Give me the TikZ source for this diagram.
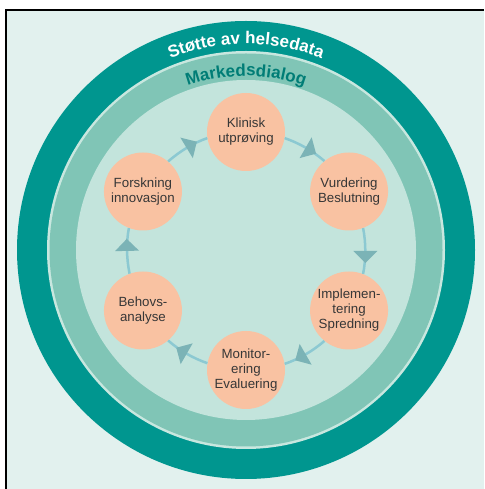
\documentclass[tikz,border=0pt]{standalone}
\usepackage{fontspec}
\setmainfont{Liberation Sans}
\usetikzlibrary{calc,decorations.text,decorations.markings}
\definecolor{bgc}{RGB}{226,241,238}
\definecolor{darkc}{RGB}{0,150,143}
\definecolor{linec}{RGB}{200,231,223}
\definecolor{medc}{RGB}{128,197,182}
\definecolor{innerc}{RGB}{195,228,220}
\definecolor{nodec}{RGB}{249,194,162}
\definecolor{arcc}{RGB}{140,201,210}
\definecolor{arrc}{RGB}{123,179,182}
\definecolor{txtc}{RGB}{55,55,55}
\definecolor{mtxt}{RGB}{0,125,118}
\tikzset{
  stage/.style={circle,fill=nodec,minimum size=78pt,inner sep=0pt,align=center,
    text=txtc,font=\fontsize{13.3}{15}\selectfont},
  conn/.style={draw=arcc,line width=2.5pt,looseness=0.86,postaction={decorate},
    decoration={markings,mark=at position 0.5 with {\fill[arrc] (0pt,12pt) -- (12pt,0pt) -- (0pt,-12pt) -- cycle;}}}
}
\begin{document}
\begin{tikzpicture}[x=1pt,y=1pt]
\useasboundingbox (0,0) rectangle (484,489);
\fill[white] (0,0) rectangle (484,489);
\fill[bgc] (6,0) rectangle (484,479);
\draw[black,line width=2pt] (6,0) -- (6,479) -- (484,479);
\coordinate (O) at (246,239);
\coordinate (C) at (246,238);
\fill[darkc] (O) circle[radius=229];
\fill[linec] (O) circle[radius=199];
\fill[medc] (O) circle[radius=196.5];
\fill[innerc] (O) circle[radius=170];
\path[decorate,decoration={text along path,text align=center,
  text={|\fontsize{17}{17}\selectfont\bfseries\color{white}|Støtte av helsedata}}]
  ($(O)+(118:206)$) arc[start angle=118,end angle=62,radius=206];
\path[decorate,decoration={text along path,text align=center,
  text={|\fontsize{17}{17}\selectfont\bfseries\color{mtxt}|Markedsdialog}}]
  ($(O)+(122:174)$) arc[start angle=122,end angle=58,radius=174];
\node[stage] (k) at ($(C)+(90:119)$) {Klinisk\\utprøving};
\node[stage] (v) at ($(C)+(30:119)$) {Vurdering\\Beslutning};
\node[stage] (i) at ($(C)+(-30:119)$) {Implemen-\\tering\\Spredning};
\node[stage] (m) at ($(C)+(-90:119)$) {Monitor-\\ering\\Evaluering};
\node[stage] (b) at ($(C)+(-150:119)$) {Behovs-\\analyse};
\node[stage] (f) at ($(C)+(150:119)$) {Forskning\\innovasjon};
\draw[conn] (k.-9.5) to[out=-19,in=139] (v.129.5);
\draw[conn] (v.-69.5) to[out=-79,in=79] (i.69.5);
\draw[conn] (i.-129.5) to[out=-139,in=19] (m.9.5);
\draw[conn] (m.170.5) to[out=161,in=-41] (b.-50.5);
\draw[conn] (b.110.5) to[out=101,in=-101] (f.249.5);
\draw[conn] (f.50.5) to[out=41,in=-161] (k.189.5);
\end{tikzpicture}
\end{document}
